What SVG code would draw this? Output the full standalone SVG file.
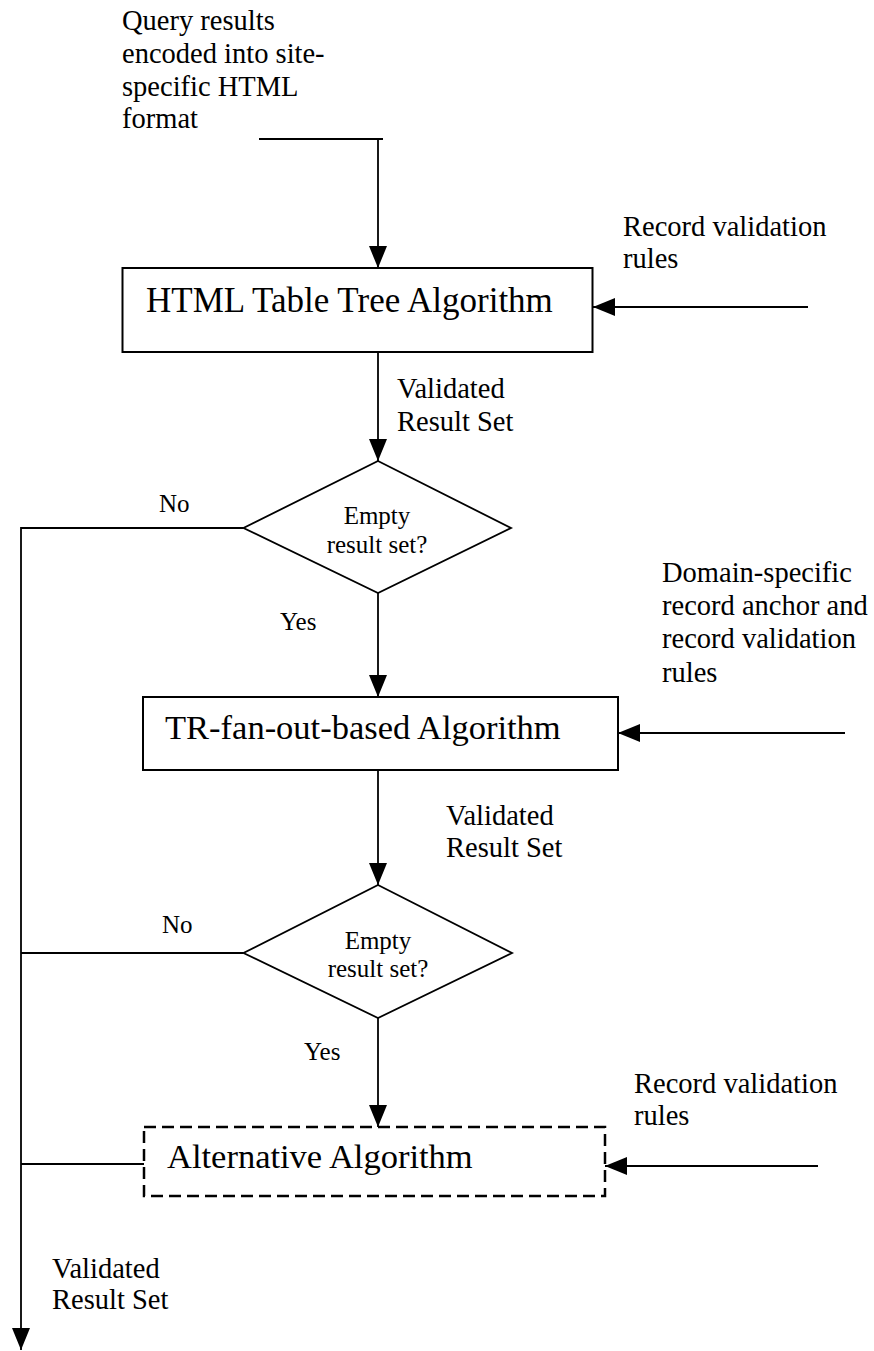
<svg xmlns="http://www.w3.org/2000/svg" width="874" height="1351" viewBox="0 0 874 1351">
  <style>
    text { font-family: "Liberation Serif", "Times New Roman", serif; fill: #000; }
    .lbl { font-size: 28.5px; }
    .big { font-size: 34.5px; }
    .sm { font-size: 25px; }
    .box { fill: #fff; stroke: #000; stroke-width: 2; }
    .dash { fill: #fff; stroke: #000; stroke-width: 2.5; stroke-dasharray: 12 6; }
    .dia { fill: #fff; stroke: #000; stroke-width: 1.8; }
    .ln { fill: none; stroke: #000; stroke-width: 1.8; }
  </style>
  <defs>
    <marker id="arr" markerUnits="userSpaceOnUse" markerWidth="22" markerHeight="20" refX="22" refY="10" orient="auto">
      <path d="M0,1 L22,10 L0,19 z" fill="#000"/>
    </marker>
  </defs>
  <rect width="874" height="1351" fill="#fff"/>

  <g id="connectors">
    <polyline class="ln" points="259,139 383,139"/>
    <line class="ln" x1="378" y1="139" x2="378" y2="268" marker-end="url(#arr)"/>
    <line class="ln" x1="808" y1="307" x2="593" y2="307" marker-end="url(#arr)"/>
    <line class="ln" x1="378" y1="352" x2="378" y2="461" marker-end="url(#arr)"/>
    <line class="ln" x1="243.5" y1="528" x2="21" y2="528"/>
    <line class="ln" x1="378" y1="593" x2="378" y2="697" marker-end="url(#arr)"/>
    <line class="ln" x1="845" y1="733" x2="618" y2="733" marker-end="url(#arr)"/>
    <line class="ln" x1="378" y1="770" x2="378" y2="885" marker-end="url(#arr)"/>
    <line class="ln" x1="243.5" y1="953" x2="21" y2="953"/>
    <line class="ln" x1="378" y1="1018" x2="378" y2="1127" marker-end="url(#arr)"/>
    <line class="ln" x1="818" y1="1166" x2="605" y2="1166" marker-end="url(#arr)"/>
    <line class="ln" x1="144" y1="1164" x2="21" y2="1164"/>
    <line class="ln" x1="21" y1="527" x2="21" y2="1350" marker-end="url(#arr)"/>
  </g>

  <g id="input-label">
    <text class="lbl" x="122" y="30">Query results</text>
    <text class="lbl" x="122" y="63">encoded into site-</text>
    <text class="lbl" x="122" y="96">specific HTML</text>
    <text class="lbl" x="122" y="128">format</text>
  </g>

  <g id="rules1">
    <text class="lbl" x="623" y="236">Record validation</text>
    <text class="lbl" x="623" y="268">rules</text>
  </g>

  <g id="html-table-tree">
    <rect class="box" x="122.5" y="268" width="470" height="84"/>
    <text class="big" x="146" y="312" style="font-size:35px">HTML Table Tree Algorithm</text>
  </g>

  <g id="validated1">
    <text class="lbl" x="397" y="398">Validated</text>
    <text class="lbl" x="397" y="431">Result Set</text>
  </g>

  <g id="decision1">
    <polygon class="dia" points="378,461 511,528 378,593 243.5,528"/>
    <text class="sm" x="377" y="524" text-anchor="middle">Empty</text>
    <text class="sm" x="377" y="553" text-anchor="middle">result set?</text>
  </g>
  <text class="sm" x="159" y="512">No</text>
  <text class="sm" x="280" y="630">Yes</text>

  <g id="rules2">
    <text class="lbl" x="662" y="582">Domain-specific</text>
    <text class="lbl" x="662" y="615">record anchor and</text>
    <text class="lbl" x="662" y="648">record validation</text>
    <text class="lbl" x="662" y="682">rules</text>
  </g>

  <g id="tr-fan-out">
    <rect class="box" x="143" y="697" width="475" height="73"/>
    <text class="big" x="165" y="739">TR-fan-out-based Algorithm</text>
  </g>

  <g id="validated2">
    <text class="lbl" x="446" y="825">Validated</text>
    <text class="lbl" x="446" y="857">Result Set</text>
  </g>

  <g id="decision2">
    <polygon class="dia" points="378,885 512,953 378,1018 243.5,953"/>
    <text class="sm" x="378" y="949" text-anchor="middle">Empty</text>
    <text class="sm" x="378" y="977" text-anchor="middle">result set?</text>
  </g>
  <text class="sm" x="162" y="933">No</text>
  <text class="sm" x="304" y="1060">Yes</text>

  <g id="rules3">
    <text class="lbl" x="634" y="1093">Record validation</text>
    <text class="lbl" x="634" y="1125">rules</text>
  </g>

  <g id="alternative">
    <rect class="dash" x="144" y="1127" width="461" height="69"/>
    <text class="big" x="167" y="1168">Alternative Algorithm</text>
  </g>

  <g id="validated3">
    <text class="lbl" x="52" y="1278">Validated</text>
    <text class="lbl" x="52" y="1309">Result Set</text>
  </g>
</svg>
